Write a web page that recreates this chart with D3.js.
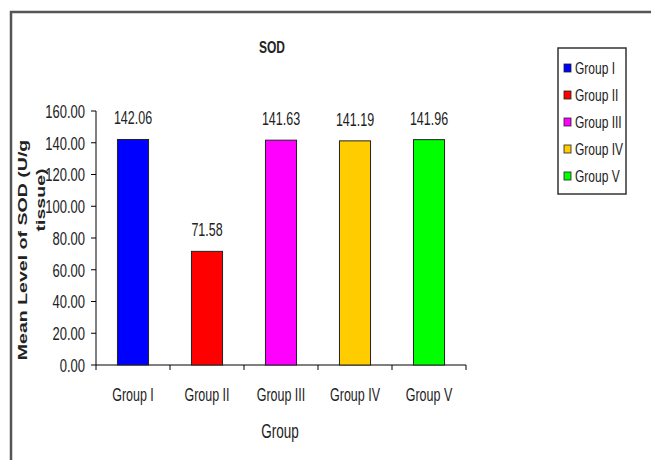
<!DOCTYPE html>
<html lang="en">
<head>
<meta charset="UTF-8" />
<title>SOD</title>
<script src="https://d3js.org/d3.v7.min.js"></script>
<style>
  body { margin: 0; background: #fff; }
  svg text { font-family: Arial, "Liberation Sans", sans-serif; fill: #222; }
</style>
</head>
<body>
<div id="chart"></div>
<script>
// data
const groups = ['Group I', 'Group II', 'Group III', 'Group IV', 'Group V'];
const sodValues = [142.06, 71.58, 141.63, 141.19, 141.96];
const barColors = ['#0000ff', '#ff0000', '#ff00ff', '#ffcc00', '#00ff00'];
const yTicks = [0, 20, 40, 60, 80, 100, 120, 140, 160];

const W = 651, H = 460;
const K = 1.45; // the picture is stretched vertically, text too

const svg = d3.select('#chart').append('svg')
  .attr('width', W).attr('height', H);

// outer frame (runs past right and bottom edges)
svg.append('rect')
  .attr('x', 11).attr('y', 12).attr('width', 720).attr('height', 520)
  .attr('fill', 'none').attr('stroke', '#555').attr('stroke-width', 2.5);

const x = d3.scaleBand().domain(groups).range([96, 466])
  .paddingInner(0.58).paddingOuter(0.29);
const y = d3.scaleLinear().domain([0, 160]).range([365, 111]);

// stretched text helper
function label(parent, tx, ty, str, opts = {}) {
  const g = parent.append('g')
    .attr('transform', `translate(${tx},${ty}) rotate(${opts.rotate || 0}) scale(${opts.rotate ? K : 1},${opts.rotate ? 1 : K})`);
  return g.append('text')
    .attr('text-anchor', opts.anchor || 'middle')
    .attr('dominant-baseline', opts.baseline || 'auto')
    .style('font-size', (opts.size || 12.5) + 'px')
    .style('font-weight', opts.bold ? 'bold' : 'normal')
    .text(str);
}

// title
label(svg, 272, 53, 'SOD', { size: 12, bold: true });

// y axis
const yAxisG = svg.append('g');
yAxisG.append('line')
  .attr('x1', 96).attr('x2', 96).attr('y1', y(160)).attr('y2', y(0))
  .attr('stroke', '#000').attr('stroke-width', 1);
yAxisG.selectAll('.ytick').data(yTicks).join('line')
  .attr('x1', 91).attr('x2', 96)
  .attr('y1', d => y(d)).attr('y2', d => y(d))
  .attr('stroke', '#000');
yTicks.forEach(t => {
  label(yAxisG, 85, y(t), d3.format('.2f')(t), { anchor: 'end', baseline: 'central', size: 13 });
});

// x axis
const xr = x.range();
const bounds = d3.range(groups.length + 1).map(i => xr[0] + i * x.step());
svg.append('line')
  .attr('x1', xr[0]).attr('x2', xr[1]).attr('y1', y(0)).attr('y2', y(0))
  .attr('stroke', '#000');
svg.selectAll('.xtick').data(bounds).join('line')
  .attr('x1', d => d).attr('x2', d => d)
  .attr('y1', y(0)).attr('y2', y(0) + 5)
  .attr('stroke', '#000');
groups.forEach(gname => {
  label(svg, x(gname) + x.bandwidth() / 2, 401, gname, { size: 12.5 });
});

// bars
svg.selectAll('.bar').data(sodValues).join('rect')
  .attr('x', (d, i) => x(groups[i]))
  .attr('y', d => y(d))
  .attr('width', x.bandwidth())
  .attr('height', d => y(0) - y(d))
  .attr('fill', (d, i) => barColors[i])
  .attr('stroke', '#222').attr('stroke-width', 1);

// value labels
sodValues.forEach((v, i) => {
  label(svg, x(groups[i]) + x.bandwidth() / 2, y(v) - 15, d3.format('.2f')(v), { size: 12.5 });
});

// axis titles
label(svg, 280, 438, 'Group', { size: 13.5 });
label(svg, 27, 250, 'Mean Level of SOD  (U/g', { rotate: -90, size: 13.5, bold: true });
label(svg, 45, 200, 'tissue)', { rotate: -90, size: 13.5, bold: true });

// legend
const legend = svg.append('g');
legend.append('rect')
  .attr('x', 558).attr('y', 48).attr('width', 68).attr('height', 146)
  .attr('fill', '#fff').attr('stroke', '#333').attr('stroke-width', 1.5);
groups.forEach((gname, i) => {
  const ly = 68 + i * 27;
  legend.append('rect')
    .attr('x', 564).attr('y', ly - 4).attr('width', 7).attr('height', 8)
    .attr('fill', barColors[i]).attr('stroke', '#222').attr('stroke-width', 0.8);
  label(legend, 575, ly, gname, { anchor: 'start', baseline: 'central', size: 12 });
});
</script>
</body>
</html>
